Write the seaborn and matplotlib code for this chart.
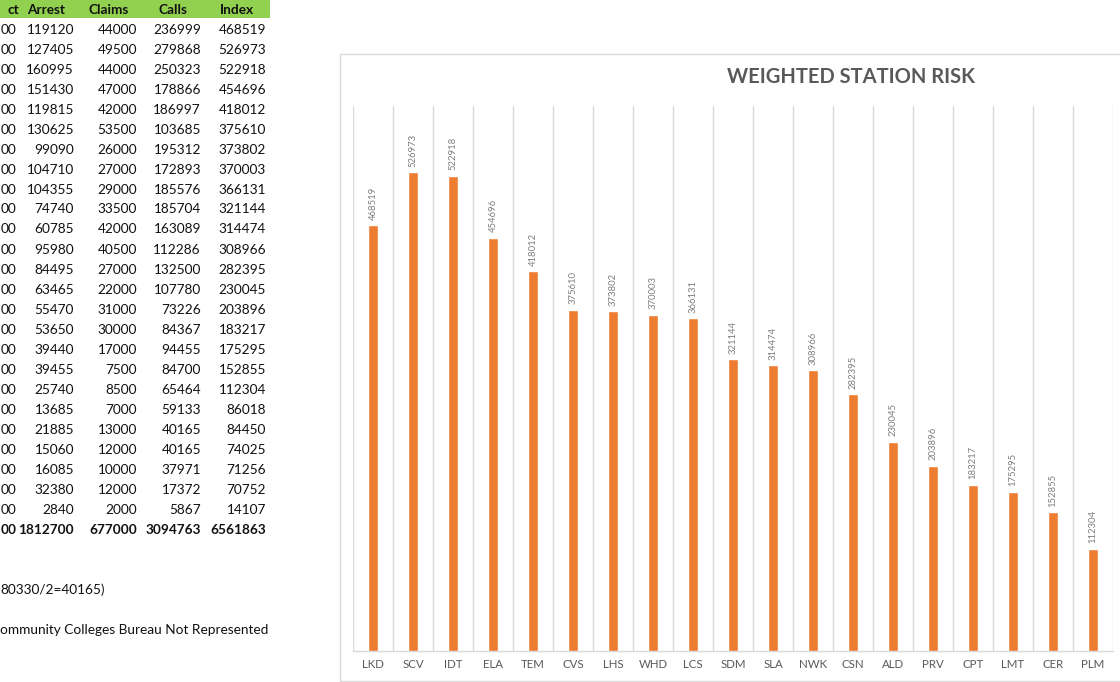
import matplotlib
matplotlib.use("Agg")
import matplotlib.pyplot as plt
import seaborn as sns
import pandas as pd
from matplotlib.patches import Rectangle

# ---------------- data ----------------
stations = ["LKD", "SCV", "IDT", "ELA", "TEM", "CVS", "LHS", "WHD", "LCS", "SDM",
            "SLA", "NWK", "CSN", "ALD", "PRV", "CPT", "LMT", "CER", "PLM"]

table_headers = ["ct", "Arrest", "Claims", "Calls", "Index"]
first_col_tail = "00"
arrest = [119120, 127405, 160995, 151430, 119815, 130625, 99090, 104710, 104355, 74740,
          60785, 95980, 84495, 63465, 55470, 53650, 39440, 39455, 25740, 13685,
          21885, 15060, 16085, 32380, 2840]
claims = [44000, 49500, 44000, 47000, 42000, 53500, 26000, 27000, 29000, 33500,
          42000, 40500, 27000, 22000, 31000, 30000, 17000, 7500, 8500, 7000,
          13000, 12000, 10000, 12000, 2000]
calls = [236999, 279868, 250323, 178866, 186997, 103685, 195312, 172893, 185576, 185704,
         163089, 112286, 132500, 107780, 73226, 84367, 94455, 84700, 65464, 59133,
         40165, 40165, 37971, 17372, 5867]
index_all = [468519, 526973, 522918, 454696, 418012, 375610, 373802, 370003, 366131, 321144,
             314474, 308966, 282395, 230045, 203896, 183217, 175295, 152855, 112304, 86018,
             84450, 74025, 71256, 70752, 14107]
totals = [1812700, 677000, 3094763, 6561863]
notes = ["80330/2=40165)", "ommunity Colleges Bureau Not Represented"]

chart_title = "WEIGHTED STATION RISK"
chart_values = index_all[:len(stations)]

# ---------------- style ----------------
sns.set_theme(style="white")
plt.rcParams['font.family'] = ['Lato', 'DejaVu Sans']

W, H = 1120, 682
fig = plt.figure(figsize=(11.2, 6.82), dpi=100)
fig.patch.set_facecolor("white")


def fx(x):
    return x / W


def fy(y):
    return 1 - y / H


# ---------------- spreadsheet table ----------------
fig.patches.append(Rectangle((fx(0), fy(18)), fx(270), fy(0) - fy(18),
                             transform=fig.transFigure, facecolor="#92D050",
                             edgecolor="none", zorder=0))
txt_color = "#111111"
fs_tab = 9.8
header_x = [19, 46, 109, 173, 237]
header_ha = ["right", "center", "center", "center", "center"]
for h, x, ha in zip(table_headers, header_x, header_ha):
    fig.text(fx(x), fy(9.5), h, ha=ha, va="center", fontsize=fs_tab,
             fontweight="bold", color=txt_color)

col_right = [74, 137, 201, 266]
for i in range(len(arrest)):
    y = 29.5 + 20 * i
    fig.text(fx(0.5), fy(y), first_col_tail, ha="left", va="center",
             fontsize=fs_tab, color=txt_color)
    for xr, col in zip(col_right, [arrest, claims, calls, index_all]):
        fig.text(fx(xr), fy(y), str(col[i]), ha="right", va="center",
                 fontsize=fs_tab, color=txt_color)

y_tot = 29.5 + 20 * len(arrest)
fig.text(fx(0.5), fy(y_tot), first_col_tail, ha="left", va="center",
         fontsize=fs_tab, fontweight="bold", color=txt_color)
for xr, v in zip(col_right, totals):
    fig.text(fx(xr), fy(y_tot), str(v), ha="right", va="center",
             fontsize=fs_tab, fontweight="bold", color=txt_color)

fig.text(fx(0.5), fy(590), notes[0], ha="left", va="center", fontsize=fs_tab, color=txt_color)
fig.text(fx(0.5), fy(630), notes[1], ha="left", va="center", fontsize=fs_tab, color=txt_color)

# ---------------- chart ----------------
fig.patches.append(Rectangle((fx(340), fy(681)), fx(1140) - fx(340), fy(54) - fy(681),
                             transform=fig.transFigure, fill=False,
                             edgecolor="#D9D9D9", lw=1, zorder=0))

ax = fig.add_axes([fx(353), fy(651), fx(1113) - fx(353), fy(106) - fy(651)])
df = pd.DataFrame({"Station": stations, "Index": chart_values})
sns.barplot(data=df, x="Station", y="Index", color="#ED7D31", width=0.25,
            saturation=1, ax=ax, zorder=3)

ax.set_xlim(-0.5, len(stations) - 0.5)
ax.set_ylim(0, 600000)
ax.set_xlabel("")
ax.set_ylabel("")
ax.set_yticks([])
ax.set_xticks([k - 0.5 for k in range(len(stations) + 1)], minor=True)
ax.grid(which="minor", axis="x", color="#D9D9D9", lw=1, zorder=0)
ax.grid(which="major", visible=False)
ax.tick_params(axis="x", which="both", length=0)
ax.tick_params(axis="x", which="major", pad=6, labelsize=8.3, labelcolor="#595959")
for s in ["top", "left", "right"]:
    ax.spines[s].set_visible(False)
ax.spines["bottom"].set_color("#D9D9D9")
ax.spines["bottom"].set_linewidth(1)
ax.patch.set_alpha(0)

ax.bar_label(ax.containers[0], labels=[str(v) for v in chart_values],
             rotation=90, padding=4, fontsize=6.8, color="#7F7F7F")

fig.text(fx(851), fy(77), chart_title, ha="center", va="center", fontsize=14.5,
         fontweight="bold", color="#595959")

fig.savefig("out.png", dpi=100)
